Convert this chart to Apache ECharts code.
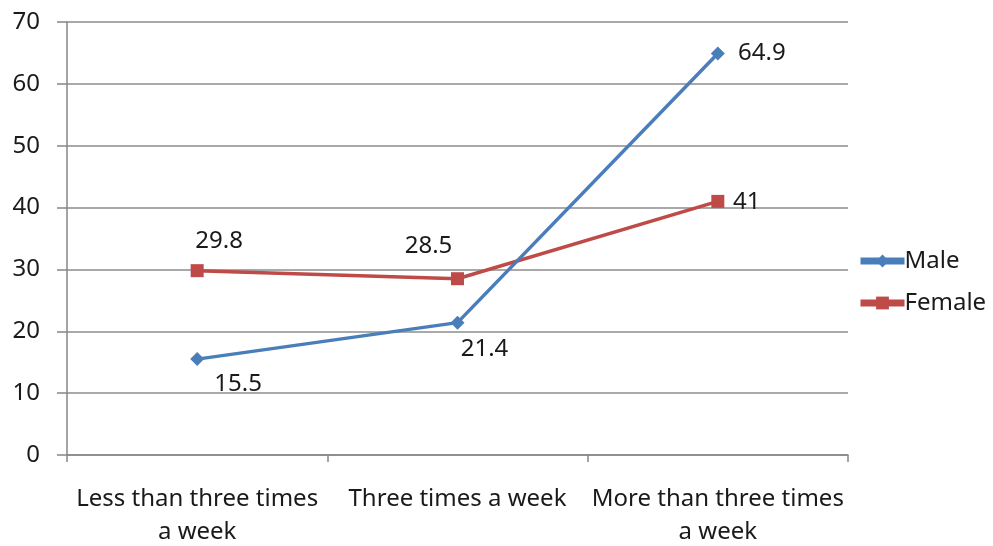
<!DOCTYPE html>
<html>
<head>
<meta charset="utf-8">
<script src="https://cdn.jsdelivr.net/npm/echarts@6/dist/echarts.min.js"></script>
<style>
  html, body { margin: 0; padding: 0; background: #fff; }
  #chart { width: 993px; height: 546px; }
</style>
</head>
<body>
<div id="chart"></div>
<script>
// Frequency categories and percentages per gender
var categories = ['Less than three times\na week', 'Three times a week', 'More than three times\na week'];
var maleValues = [15.5, 21.4, 64.9];
var femaleValues = [29.8, 28.5, 41];
var yTicks = [0, 10, 20, 30, 40, 50, 60, 70];

// Where each value label sits relative to its point (pixels)
var maleLabelOffsets = [[41, 25], [27, 27], [44, 0]];
var femaleLabelOffsets = [[22, -30], [-29, -33], [29, 1]];

var FONT = 'Noto Sans';
var TEXT = '#1a1a1a';
var FS = 24;

function labeled(values, offsets) {
  return values.map(function (v, i) {
    return { value: v, label: { offset: offsets[i] } };
  });
}

var chart = echarts.init(document.getElementById('chart'), null, { renderer: 'canvas' });
chart.setOption({
  animation: false,
  backgroundColor: '#ffffff',
  textStyle: { fontFamily: FONT },
  grid: { left: 67, right: 145, top: 22, bottom: 91, containLabel: false, outerBoundsMode: 'none' },
  legend: {
    orient: 'vertical',
    left: 852,
    top: 244,
    itemWidth: 44,
    itemHeight: 16,
    itemGap: 18,
    data: ['Male', 'Female'],
    lineStyle: { width: 7 },
    textStyle: { fontSize: 24, color: TEXT, fontFamily: FONT, padding: [0, 0, 0, -5] }
  },
  xAxis: {
    type: 'category',
    data: categories,
    boundaryGap: true,
    axisLine: { lineStyle: { color: '#868686', width: 1.5 } },
    axisTick: { show: true, length: 7, alignWithLabel: false, lineStyle: { color: '#868686', width: 1.5 } },
    axisLabel: { fontSize: FS, color: TEXT, fontFamily: FONT, lineHeight: 33, margin: 28, interval: 0 }
  },
  yAxis: {
    type: 'value',
    min: yTicks[0],
    max: yTicks[yTicks.length - 1],
    interval: 10,
    axisLine: { show: true, lineStyle: { color: '#868686', width: 1.5 } },
    axisTick: { show: true, length: 10, lineStyle: { color: '#868686', width: 1.5 } },
    splitLine: { show: true, lineStyle: { color: '#8c8c8c', width: 1.5 } },
    axisLabel: { fontSize: FS, color: TEXT, fontFamily: FONT, margin: 27 }
  },
  series: [
    {
      name: 'Male',
      type: 'line',
      data: labeled(maleValues, maleLabelOffsets),
      symbol: 'diamond',
      symbolSize: 14,
      itemStyle: { color: '#4a7ebb' },
      lineStyle: { color: '#4a7ebb', width: 3.5 },
      label: { show: true, position: 'inside', fontSize: FS, color: TEXT, fontFamily: FONT },
      z: 3
    },
    {
      name: 'Female',
      type: 'line',
      data: labeled(femaleValues, femaleLabelOffsets),
      symbol: 'rect',
      symbolSize: 13,
      itemStyle: { color: '#be4b48' },
      lineStyle: { color: '#be4b48', width: 3.5 },
      label: { show: true, position: 'inside', fontSize: FS, color: TEXT, fontFamily: FONT },
      z: 2
    }
  ]
});
</script>
</body>
</html>
